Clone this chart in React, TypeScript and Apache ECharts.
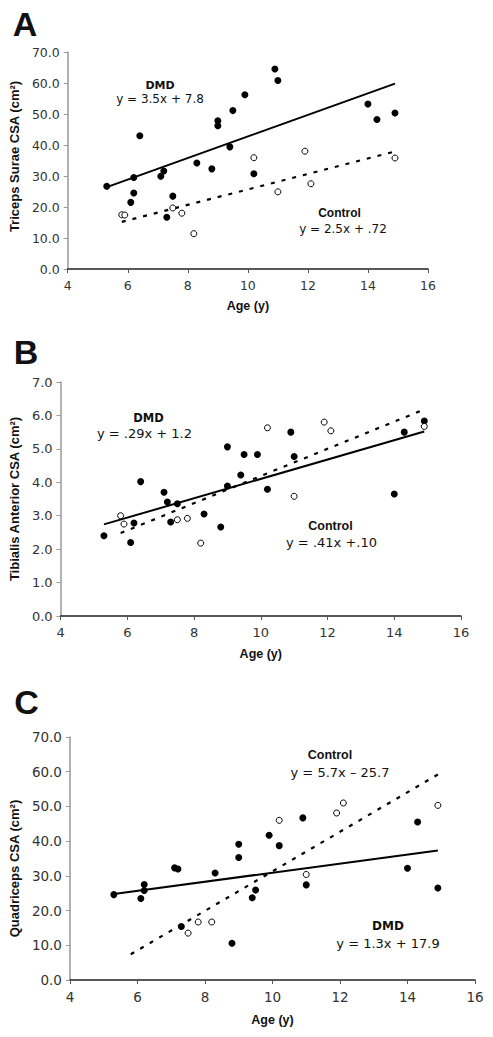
import React, { useEffect, useRef } from "react";
import * as echarts from "echarts";

// ---------- data ----------
// Panel A: Triceps Surae CSA (cm²)
const dmdAgeA = [5.3, 6.1, 6.2, 6.2, 6.4, 7.1, 7.2, 7.3, 7.5, 8.3, 8.8, 9.0, 9.0, 9.4, 9.5, 9.9, 10.2, 10.9, 11.0, 14.0, 14.3, 14.9];
const dmdValA = [26.7, 21.5, 29.5, 24.5, 43.0, 29.9, 31.6, 16.7, 23.5, 34.2, 32.3, 47.8, 46.2, 39.4, 51.1, 56.2, 30.7, 64.5, 60.8, 53.2, 48.2, 50.3];
const ctlAgeA = [5.8, 5.9, 7.5, 7.8, 8.2, 10.2, 11.0, 11.9, 12.1, 14.9];
const ctlValA = [17.5, 17.4, 19.7, 18.0, 11.4, 35.9, 24.9, 38.0, 27.5, 35.8];
const dmdFitA = [[5.3, 26.4], [14.9, 59.8]];
const ctlFitA = [[5.8, 15.2], [14.9, 37.9]];

// Panel B: Tibialis Anterior CSA (cm²)
const dmdAgeB = [5.3, 6.1, 6.2, 6.4, 7.1, 7.2, 7.3, 7.5, 8.3, 8.8, 9.0, 9.0, 9.4, 9.5, 9.9, 10.2, 10.9, 11.0, 14.0, 14.3, 14.9];
const dmdValB = [2.4, 2.2, 2.78, 4.02, 3.7, 3.41, 2.81, 3.36, 3.05, 2.66, 5.06, 3.89, 4.22, 4.83, 4.83, 3.79, 5.5, 4.77, 3.65, 5.5, 5.83];
const ctlAgeB = [5.8, 5.9, 7.5, 7.8, 8.2, 10.2, 11.0, 11.9, 12.1, 14.9];
const ctlValB = [3.0, 2.75, 2.88, 2.92, 2.18, 5.63, 3.58, 5.8, 5.54, 5.67];
const dmdFitB = [[5.3, 2.74], [14.9, 5.52]];
const ctlFitB = [[5.8, 2.48], [14.9, 6.18]];

// Panel C: Quadriceps CSA (cm²)
const dmdAgeC = [5.3, 6.1, 6.2, 6.2, 7.1, 7.2, 7.3, 8.3, 8.8, 9.0, 9.0, 9.4, 9.5, 9.9, 10.2, 10.9, 11.0, 14.0, 14.3, 14.9];
const dmdValC = [24.6, 23.5, 27.5, 25.8, 32.3, 32.0, 15.4, 30.8, 10.6, 39.1, 35.3, 23.7, 25.9, 41.7, 38.7, 46.7, 27.4, 32.2, 45.5, 26.5];
const ctlAgeC = [7.5, 7.8, 8.2, 10.2, 11.0, 11.9, 12.1, 14.9];
const ctlValC = [13.5, 16.7, 16.7, 46.0, 30.4, 48.1, 51.0, 50.3];
const dmdFitC = [[5.3, 24.8], [14.9, 37.3]];
const ctlFitC = [[5.8, 7.4], [14.9, 59.2]];

const panelLetters = ["A", "B", "C"];
const yNames = ["Triceps Surae CSA (cm²)", "Tibialis Anterior CSA (cm²)", "Quadriceps CSA (cm²)"];
const xName = "Age (y)";
const yMaxes = [70, 7, 70];
const yIntervals = [10, 1, 10];
const eqDmd = ["y = 3.5x + 7.8", "y = .29x + 1.2", "y = 1.3x + 17.9"];
const eqCtl = ["y = 2.5x + .72", "y = .41x +.10", "y = 5.7x \u2013 25.7"];

// ---------- layout / style ----------
const grids = [
  { left: 62, top: 52, width: 366, height: 217 },
  { left: 59, top: 382, width: 402, height: 234 },
  { left: 69, top: 737, width: 406, height: 243 },
];
const tickFont = [12.5, 13, 13.5];
const xNameGap = [30, 31, 33];
const yNameGap = [39, 38, 45];
const yNamePadding = [[0, 0, 0, 8], [0, 0, 0, 0], [0, 20, 0, 0]];
const VERDANA = "'DejaVu Sans', Verdana, sans-serif";
const ARIAL = "'Liberation Sans', Arial, sans-serif";

const pairs = (xs: number[], ys: number[]) => xs.map((x, i) => [x, ys[i]]);

export default function App() {
  const ref = useRef<HTMLDivElement>(null);
  useEffect(() => {
    if (!ref.current) return;
    const chart = echarts.init(ref.current, undefined, { renderer: "svg" });

    const dmd = [pairs(dmdAgeA, dmdValA), pairs(dmdAgeB, dmdValB), pairs(dmdAgeC, dmdValC)];
    const ctl = [pairs(ctlAgeA, ctlValA), pairs(ctlAgeB, ctlValB), pairs(ctlAgeC, ctlValC)];
    const dmdFit = [dmdFitA, dmdFitB, dmdFitC];
    const ctlFit = [ctlFitA, ctlFitB, ctlFitC];

    const xAxis = grids.map((_, i) => ({
      type: "value",
      gridIndex: i,
      min: 4,
      max: 16,
      interval: 2,
      name: xName,
      nameLocation: "middle",
      nameGap: xNameGap[i],
      nameTextStyle: { fontFamily: ARIAL, fontWeight: "bold", fontSize: 12.5, color: "#111" },
      axisLine: { show: true, onZero: false, lineStyle: { color: "#222", width: 1.5 } },
      axisTick: { show: true, length: 4, lineStyle: { color: "#555", width: 1 } },
      axisLabel: { fontFamily: VERDANA, fontSize: tickFont[i], color: "#333", margin: 10 },
      splitLine: { show: false },
    }));

    const yAxis = grids.map((_, i) => ({
      type: "value",
      gridIndex: i,
      min: 0,
      max: yMaxes[i],
      interval: yIntervals[i],
      name: yNames[i],
      nameLocation: "middle",
      nameGap: yNameGap[i],
      nameTextStyle: {
        fontFamily: ARIAL,
        fontWeight: "bold",
        fontSize: 13,
        color: "#111",
        padding: yNamePadding[i],
      },
      axisLine: { show: true, lineStyle: { color: "#999", width: 1.5 } },
      axisTick: { show: true, length: 4, lineStyle: { color: "#999", width: 1 } },
      axisLabel: {
        fontFamily: VERDANA,
        fontSize: tickFont[i],
        color: "#333",
        margin: 8,
        formatter: (v: number) => v.toFixed(1),
      },
      splitLine: { show: false },
    }));

    const series: any[] = [];
    grids.forEach((_, i) => {
      series.push({
        type: "line",
        xAxisIndex: i,
        yAxisIndex: i,
        data: dmdFit[i],
        showSymbol: false,
        symbol: "none",
        lineStyle: { color: "#000", width: 2 },
        z: 2,
      });
      series.push({
        type: "line",
        xAxisIndex: i,
        yAxisIndex: i,
        data: ctlFit[i],
        showSymbol: false,
        symbol: "none",
        lineStyle: { color: "#000", width: 2.2, type: [4, 7] },
        z: 2,
      });
      series.push({
        type: "scatter",
        xAxisIndex: i,
        yAxisIndex: i,
        data: dmd[i],
        symbol: "circle",
        symbolSize: 7,
        itemStyle: { color: "#000", borderWidth: 0, opacity: 1 },
        z: 3,
      });
      series.push({
        type: "scatter",
        xAxisIndex: i,
        yAxisIndex: i,
        data: ctl[i],
        symbol: "circle",
        symbolSize: 6,
        itemStyle: { color: "#fff", borderColor: "#000", borderWidth: 1, opacity: 1 },
        z: 4,
      });
    });

    const txt = (text: string, x: number, y: number, font: string) => ({
      type: "text",
      style: { text, x, y, font, fill: "#111", textAlign: "center", textVerticalAlign: "middle" },
    });

    const letterPos = [[25, 24], [26, 352], [26.5, 702]];
    const dmdLabelPos = [[160, 85, 160, 99, 11, 12], [148.5, 418, 144.5, 433, 11.5, 13], [388, 926, 388, 943, 12, 13]];
    const ctlLabelPos = [[339.5, 213, 343, 228.5, 12, 12], [330.5, 526, 331.5, 542.5, 12.5, 13], [330, 755, 340, 772.5, 12.5, 13]];

    const graphic: any[] = [];
    panelLetters.forEach((l, i) => {
      graphic.push(txt(l, letterPos[i][0], letterPos[i][1], `bold 34px ${ARIAL}`));
      const d = dmdLabelPos[i];
      graphic.push(txt("DMD", d[0], d[1], `bold ${d[4]}px ${VERDANA}`));
      graphic.push(txt(eqDmd[i], d[2], d[3], `${d[5]}px ${VERDANA}`));
      const c = ctlLabelPos[i];
      graphic.push(txt("Control", c[0], c[1], `bold ${c[4]}px ${ARIAL}`));
      graphic.push(txt(eqCtl[i], c[2], c[3], `${c[5]}px ${VERDANA}`));
    });

    chart.setOption({
      animation: false,
      backgroundColor: "#fff",
      grid: grids.map((g) => ({ ...g, containLabel: false })),
      xAxis,
      yAxis,
      series,
      graphic,
    });
    return () => chart.dispose();
  }, []);

  return (
    <div
      ref={ref}
      style={{ position: "fixed", left: 0, top: 0, width: 493, height: 1037, background: "#fff" }}
    />
  );
}
